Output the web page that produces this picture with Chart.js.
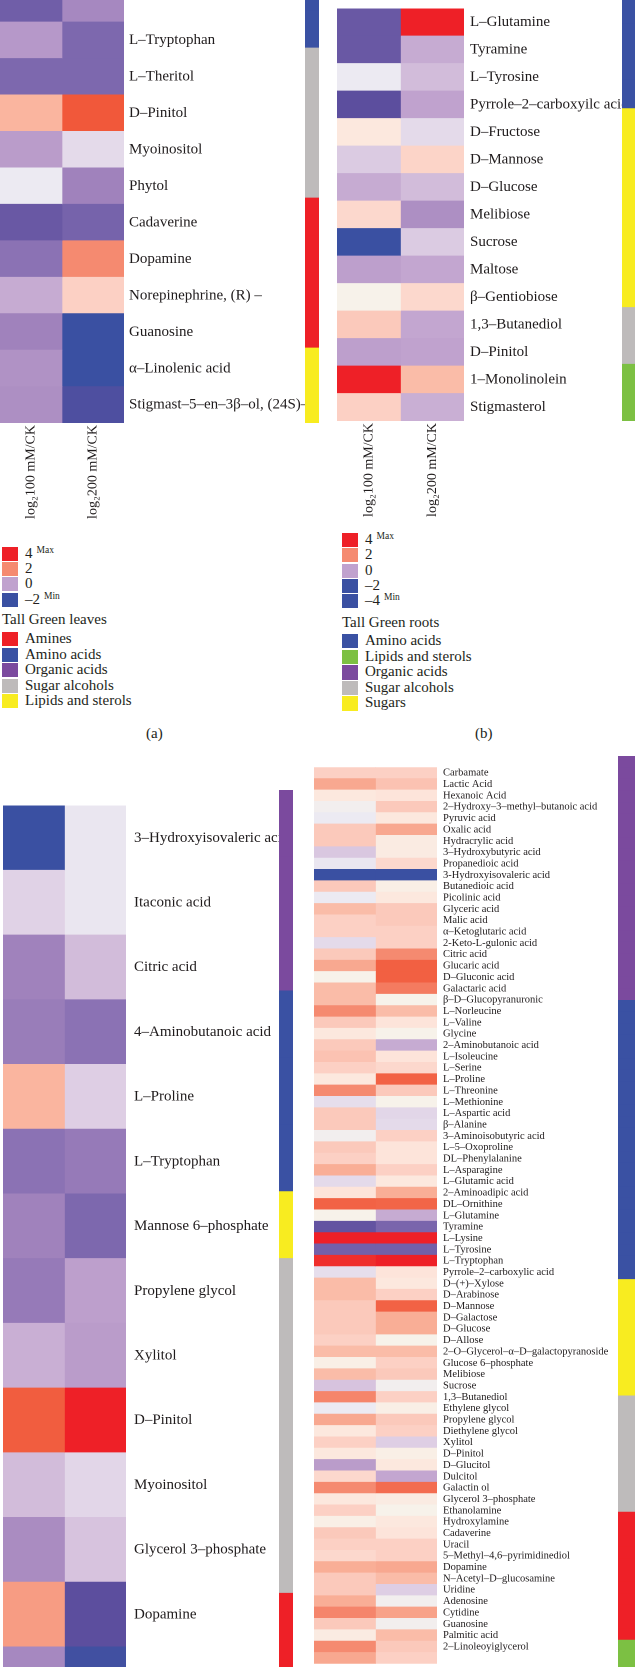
<!DOCTYPE html>
<html><head><meta charset="utf-8">
<script src="https://cdn.jsdelivr.net/npm/chart.js@4.4.0/dist/chart.umd.min.js"></script>
<style>
html,body{margin:0;padding:0;background:#fff;}
body{width:635px;height:1667px;position:relative;overflow:hidden;font-family:"Liberation Serif","DejaVu Serif",serif;color:#231f20;}
canvas{position:absolute;}
.sw{position:absolute;width:16px;}
.lt{position:absolute;font-size:15px;white-space:nowrap;}
.lt .sp{font-size:9.5px;position:relative;top:-5px;margin-left:4px;}
.ttl{position:absolute;font-size:15px;white-space:nowrap;line-height:18px;}
.pl{position:absolute;font-size:15px;line-height:18px;}
</style></head>
<body>
<script>
// ---------- DATA ----------
const cols = ['log\u2082100 mM/CK', 'log\u2082200 mM/CK'];

const aRows = ['', 'L\u2013Tryptophan', 'L\u2013Theritol', 'D\u2013Pinitol', 'Myoinositol', 'Phytol', 'Cadaverine', 'Dopamine', 'Norepinephrine, (R) \u2013', 'Guanosine', '\u03b1\u2013Linolenic acid', 'Stigmast\u20135\u2013en\u20133\u03b2\u2013ol, (24S)\u2013'];
const a100 = [-1.2, -0.15, -1.0, 1.65, -0.1, 0.9, -1.3, -0.8, 0.1, -0.5, -0.25, -0.3];
const a200 = [-0.4, -1.0, -1.0, 3.0, 0.7, -0.5, -1.1, 2.0, 1.45, -2, -2, -1.7];
const aGroups = ['Amino acids', 'Amino acids', 'Sugar alcohols', 'Sugar alcohols', 'Sugar alcohols', 'Sugar alcohols', 'Amines', 'Amines', 'Amines', 'Amines', 'Lipids and sterols', 'Lipids and sterols'];

const bRows = ['L\u2013Glutamine', 'Tyramine', 'L\u2013Tyrosine', 'Pyrrole\u20132\u2013carboxyilc acid', 'D\u2013Fructose', 'D\u2013Mannose', 'D\u2013Glucose', 'Melibiose', 'Sucrose', 'Maltose', '\u03b2\u2013Gentiobiose', '1,3\u2013Butanediol', 'D\u2013Pinitol', '1\u2013Monolinolein', 'Stigmasterol'];
const b100 = [-1.3, -1.3, 0.9, -1.5, 1.15, 0.5, 0.1, 1.35, -2, -0.05, 1.0, 1.5, -0.05, 4, 1.45];
const b200 = [4, 0.1, 0.3, 0, 0.7, 1.4, 0.3, -0.3, 0.5, 0.05, 1.35, 0.05, 0, 1.6, 0.15];
const bGroups = ['Amino acids', 'Amino acids', 'Amino acids', 'Amino acids', 'Sugars', 'Sugars', 'Sugars', 'Sugars', 'Sugars', 'Sugars', 'Sugars', 'Sugar alcohols', 'Sugar alcohols', 'Lipids and sterols', 'Lipids and sterols'];

const cRows = ['3\u2013Hydroxyisovaleric acid', 'Itaconic acid', 'Citric acid', '4\u2013Aminobutanoic acid', 'L\u2013Proline', 'L\u2013Tryptophan', 'Mannose 6\u2013phosphate', 'Propylene glycol', 'Xylitol', 'D\u2013Pinitol', 'Myoinositol', 'Glycerol 3\u2013phosphate', 'Dopamine', ''];
const c100 = [-2, 0.6, -0.5, -0.6, 1.65, -0.8, -0.5, -0.65, 0.15, 2.9, 0.3, -0.35, 1.85, -0.4];
const c200 = [0.85, 0.85, 0.3, -0.8, 0.55, -0.65, -1.0, -0.05, -0.1, 4, 0.65, 0.4, -1.5, -1.9];
const cGroups = ['Organic acids', 'Organic acids', 'Organic acids', 'Amino acids', 'Amino acids', 'Amino acids', 'Sugars', 'Sugar alcohols', 'Sugar alcohols', 'Sugar alcohols', 'Sugar alcohols', 'Sugar alcohols', 'Amines', 'Amines'];

const dRows = ['Carbamate', 'Lactic Acid', 'Hexanoic Acid', '2\u2013Hydroxy\u20133\u2013methyl\u2013butanoic acid', 'Pyruvic acid', 'Oxalic acid', 'Hydracrylic acid', '3\u2013Hydroxybutyric acid', 'Propanedioic acid', '3-Hydroxyisovaleric acid',
 'Butanedioic acid', 'Picolinic acid', 'Glyceric acid', 'Malic acid', '\u03b1\u2013Ketoglutaric acid', '2-Keto-L-gulonic acid', 'Citric acid', 'Glucaric acid', 'D\u2013Gluconic acid', 'Galactaric acid',
 '\u03b2\u2013D\u2013Glucopyranuronic', 'L\u2013Norleucine', 'L\u2013Valine', 'Glycine', '2\u2013Aminobutanoic acid', 'L\u2013Isoleucine', 'L\u2013Serine', 'L\u2013Proline', 'L\u2013Threonine', 'L\u2013Methionine',
 'L\u2013Aspartic acid', '\u03b2\u2013Alanine', '3\u2013Aminoisobutyric acid', 'L\u20135\u2013Oxoproline', 'DL\u2013Phenylalanine', 'L\u2013Asparagine', 'L\u2013Glutamic acid', '2\u2013Aminoadipic acid', 'DL\u2013Ornithine', 'L\u2013Glutamine',
 'Tyramine', 'L\u2013Lysine', 'L\u2013Tyrosine', 'L\u2013Tryptophan', 'Pyrrole\u20132\u2013carboxylic acid', 'D\u2013(+)\u2013Xylose', 'D\u2013Arabinose', 'D\u2013Mannose', 'D\u2013Galactose', 'D\u2013Glucose',
 'D\u2013Allose', '2\u2013O\u2013Glycerol\u2013\u03b1\u2013D\u2013galactopyranoside', 'Glucose 6\u2013phosphate', 'Melibiose', 'Sucrose', '1,3\u2013Butanediol', 'Ethylene glycol', 'Propylene glycol', 'Diethylene glycol', 'Xylitol',
 'D\u2013Pinitol', 'D\u2013Glucitol', 'Dulcitol', 'Galactin ol', 'Glycerol 3\u2013phosphate', 'Ethanolamine', 'Hydroxylamine', 'Cadaverine', 'Uracil', '5\u2013Methyl\u20134,6\u2013pyrimidinediol',
 'Dopamine', 'N\u2013Acetyl\u2013D\u2013glucosamine', 'Uridine', 'Adenosine', 'Cytidine', 'Guanosine', 'Palmitic acid', '2\u2013Linoleoyiglycerol', ''];
const d100 = [1.45, 1.75, 1.15, 0.95, 0.9, 1.5, 1.5, 0.45, 0.85, -2,
 1.5, 0.9, 1.6, 1.45, 1.45, 0.7, 1.5, 1.75, 1.0, 1.6,
 1.6, 2.0, 1.5, 1.15, 1.5, 1.55, 1.45, 1.15, 2.0, 0.75,
 1.5, 1.5, 0.95, 1.5, 1.45, 1.7, 0.7, 1.2, 2.8, 1.0,
 -1.4, 4, -1.15, 3.75, 0.75, 1.6, 1.6, 1.5, 1.5, 1.5,
 1.45, 1.6, 1.05, 1.6, 0.4, 2.1, 0.9, 1.75, 1.15, 1.45,
 1.15, -0.1, 1.35, 2.0, 1.15, 1.45, 1.05, 1.5, 1.45, 1.35,
 1.7, 1.5, 1.5, 1.7, 2.1, 1.5, 1.1, 2.0, 1.75];
const d200 = [1.45, 1.55, 1.2, 1.5, 1.15, 1.75, 1.1, 1.1, 1.35, -2,
 1.05, 1.15, 1.5, 1.5, 1.45, 1.45, 2.0, 2.85, 2.85, 2.3,
 1.0, 1.6, 1.2, 1.0, 0.1, 1.2, 1.35, 2.8, 1.5, 1.0,
 0.65, 0.7, 1.45, 1.2, 1.2, 1.45, 1.15, 1.7, 2.75, 0.1,
 -1.05, 4, -1.15, 4, 1.2, 1.15, 1.45, 2.8, 1.7, 1.7,
 1.0, 1.6, 1.45, 1.5, 0.95, 1.45, 1.05, 1.5, 1.45, 0.55,
 1.05, 1.15, 0.05, 2.6, 1.1, 1.0, 1.15, 1.2, 1.45, 1.45,
 1.75, 1.6, 0.55, 0.95, 1.8, 0.95, 1.6, 1.5, 1.45];
const dGroupCounts = [['Organic acids', 21], ['Amino acids', 24], ['Sugars', 10], ['Sugar alcohols', 10], ['Amines', 11], ['Lipids and sterols', 3]];
const dGroups = dGroupCounts.flatMap(([g, n]) => Array(n).fill(g));

const aLegendVals = [4, 2, 0, -2];
const aLegendText = ['4', '2', '0', '\u20132'];
const aLegendSup = ['Max', '', '', 'Min'];
const bLegendVals = [4, 2, 0, -2, -4];
const bLegendText = ['4', '2', '0', '\u20132', '\u20134'];
const bLegendSup = ['Max', '', '', '', 'Min'];
const aCats = ['Amines', 'Amino acids', 'Organic acids', 'Sugar alcohols', 'Lipids and sterols'];
const bCats = ['Amino acids', 'Lipids and sterols', 'Organic acids', 'Sugar alcohols', 'Sugars'];

// ---------- STYLES ----------
const STOPS = [
 [-2, [58, 80, 162]], [-1.5, [92, 78, 158]], [-1, [125, 104, 174]], [-0.5, [160, 130, 188]],
 [0, [192, 162, 206]], [0.3, [210, 188, 218]], [0.6, [224, 210, 230]], [0.9, [236, 234, 242]],
 [1.0, [247, 242, 234]], [1.2, [253, 228, 218]], [1.45, [252, 208, 196]], [1.7, [249, 174, 150]],
 [2.0, [245, 138, 112]], [3.0, [241, 88, 58]], [4.0, [238, 32, 39]]
];
function cmap(v) {
  const rgb = c => `rgb(${c.map(Math.round).join(',')})`;
  if (v <= STOPS[0][0]) return rgb(STOPS[0][1]);
  for (let i = 1; i < STOPS.length; i++) {
    if (v <= STOPS[i][0]) {
      const t = (v - STOPS[i - 1][0]) / (STOPS[i][0] - STOPS[i - 1][0]);
      return rgb(STOPS[i - 1][1].map((c, k) => c + (STOPS[i][1][k] - c) * t));
    }
  }
  return rgb(STOPS[STOPS.length - 1][1]);
}
const baseGroupColors = {'Amines': '#ee2027', 'Amino acids': '#3a51a3', 'Organic acids': '#7b4a9e', 'Sugar alcohols': '#bebbbb', 'Sugars': '#f8ec20', 'Lipids and sterols': '#7cc043'};
const aGroupColors = Object.assign({}, baseGroupColors, {'Lipids and sterols': '#f8ec20'});
const TXT = '#1f1b1c';
const FAM = '"Liberation Serif", "DejaVu Serif", serif';
Chart.defaults.font.family = FAM;
Chart.defaults.color = TXT;

function makeCanvas(left, top, w, h) {
  const c = document.createElement('canvas');
  c.width = w; c.height = h;
  c.style.left = left + 'px'; c.style.top = top + 'px';
  document.body.appendChild(c);
  return c;
}

function heatmap(cv, rows, v1, v2, o) {
  const vals = [v1, v2];
  new Chart(cv, {
    type: 'bar',
    data: {
      labels: rows,
      datasets: vals.map((vs, ci) => ({data: rows.map(() => [ci, ci + 1]), backgroundColor: vs.map(cmap)}))
    },
    options: {
      indexAxis: 'y', responsive: false, animation: false, devicePixelRatio: 2,
      layout: {padding: 0},
      plugins: {legend: {display: false}, tooltip: {enabled: false}},
      datasets: {bar: {barPercentage: 1, categoryPercentage: 1, grouped: false, borderWidth: 0}},
      scales: {
        y: {position: 'right', grid: {display: false, drawTicks: false}, border: {display: false},
            ticks: {padding: o.pad, autoSkip: false, color: TXT, font: {size: o.fs, family: FAM, lineHeight: 1}},
            afterFit: s => { s.width = o.lw; }},
        x: {min: 0, max: cols.length, display: o.showX, grid: {display: false, drawTicks: false}, border: {display: false},
            afterBuildTicks: s => { s.ticks = cols.map((c, i) => ({value: i + 0.5})); },
            ticks: {callback: (v, i) => cols[i], minRotation: 90, maxRotation: 90, padding: 2, autoSkip: false, color: TXT, font: {size: 14, family: FAM}},
            afterFit: s => { s.height = o.xh; }}
      }
    }
  });
}

function groupBar(cv, rows, groups, colors) {
  new Chart(cv, {
    type: 'bar',
    data: {labels: rows, datasets: [{data: rows.map(() => [0, 1]), backgroundColor: groups.map(g => colors[g])}]},
    options: {
      indexAxis: 'y', responsive: false, animation: false, devicePixelRatio: 2,
      layout: {padding: 0},
      plugins: {legend: {display: false}, tooltip: {enabled: false}},
      datasets: {bar: {barPercentage: 1, categoryPercentage: 1, borderWidth: 0}},
      scales: {x: {display: false, min: 0, max: 1}, y: {display: false}}
    }
  });
}

function legend(x, y0, pitch, colorsList, texts, sups) {
  colorsList.forEach((col, i) => {
    const top = y0 + i * pitch, h = pitch - 1.2;
    const sw = document.createElement('div');
    sw.className = 'sw'; sw.style.left = x + 'px'; sw.style.top = top + 'px'; sw.style.height = h + 'px'; sw.style.background = col;
    document.body.appendChild(sw);
    const t = document.createElement('div');
    t.className = 'lt'; t.style.left = (x + 23) + 'px'; t.style.top = (top - 1) + 'px'; t.style.lineHeight = (h + 1) + 'px';
    t.textContent = texts[i];
    if (sups && sups[i]) { const s = document.createElement('span'); s.className = 'sp'; s.textContent = sups[i]; t.appendChild(s); }
    document.body.appendChild(t);
  });
}
function textAt(cls, x, y, s) {
  const d = document.createElement('div'); d.className = cls; d.style.left = x + 'px'; d.style.top = y + 'px'; d.textContent = s;
  document.body.appendChild(d);
}

// ---------- PANEL (a) ----------
heatmap(makeCanvas(0, -27.5, 324, 555), aRows, a100, a200, {pad: 5, fs: 15, lw: 200, showX: true, xh: 105});
groupBar(makeCanvas(305, -27.5, 14, 450), aRows, aGroups, aGroupColors);
legend(2, 546.5, 15.4, aLegendVals.map(cmap), aLegendText, aLegendSup);
textAt('ttl', 2, 610, 'Tall Green leaves');
legend(2, 632, 15.5, aCats.map(c => aGroupColors[c]), aCats, null);
textAt('pl', 146, 724, '(a)');

// ---------- PANEL (b) ----------
heatmap(makeCanvas(337, -5, 298, 531), bRows, b100, b200, {pad: 6, fs: 15, lw: 171, showX: true, xh: 105});
groupBar(makeCanvas(622, -5, 14, 426), bRows, bGroups, baseGroupColors);
legend(342, 533, 15.25, bLegendVals.map(cmap), bLegendText, bLegendSup);
textAt('ttl', 342, 613, 'Tall Green roots');
legend(342, 634, 15.6, bCats.map(c => baseGroupColors[c]), bCats, null);
textAt('pl', 475, 724, '(b)');

// ---------- PANEL (c) ----------
heatmap(makeCanvas(3, 790, 290, 937), cRows, c100, c200, {pad: 8, fs: 15, lw: 167, showX: false, xh: 0});
groupBar(makeCanvas(279, 790, 14, 937), cRows, cGroups, baseGroupColors);

// ---------- PANEL (d) ----------
heatmap(makeCanvas(314, 756, 321, 919), dRows, d100, d200, {pad: 6, fs: 10.5, lw: 198, showX: false, xh: 0});
groupBar(makeCanvas(618, 756, 18, 919), dRows, dGroups, baseGroupColors);
</script>
</body></html>
